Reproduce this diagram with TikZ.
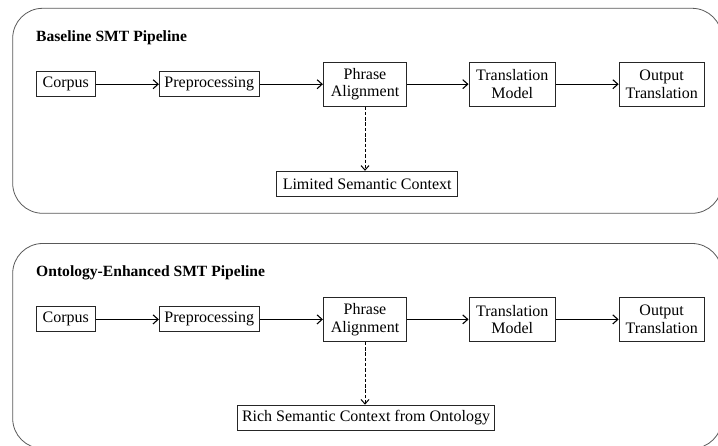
\documentclass[tikz,border=0pt]{standalone}
\usepackage{fontspec}
\setmainfont{Liberation Serif}
\usetikzlibrary{arrows.meta}

\tikzset{
  panel/.style={draw=black!65, line width=0.8pt, rounded corners=30pt},
  stage/.style={draw=black!85, line width=0.8pt, inner sep=0pt, minimum height=25pt,
    align=center, font=\fontsize{16}{17.7}\selectfont},
  stage2/.style={stage, minimum height=44pt},
  heading/.style={anchor=base west, inner sep=0pt, font=\fontsize{15.6}{17.7}\selectfont\bfseries},
  flow/.style={line width=1.2pt, -{Straight Barb[length=5pt,width=9pt,line width=1.1pt]}},
  hint/.style={line width=0.9pt, dash pattern=on 3.5pt off 1.8pt,
    -{Straight Barb[length=4.5pt,width=8pt,line width=1pt]}}
}

\begin{document}
\begin{tikzpicture}[x=1pt, y=-1pt]
\useasboundingbox (0,0) rectangle (718,446);

% ---- Baseline pipeline ----
\draw[panel] (12.7,8.3) rectangle (722,213.3);
\node[heading] (ta) at (36,41.7) {Baseline SMT Pipeline};
\node[stage,  minimum width=59.3pt] (a-corpus) at (65.7,84.2)  {Corpus};
\node[stage,  minimum width=100pt]  (a-prep)   at (209.3,84.2) {Preprocessing};
\node[stage2, minimum width=83.4pt] (a-phrase) at (365,84.2)   {Phrase\\Alignment};
\node[stage2, minimum width=86.7pt] (a-model)  at (512.3,84.2) {Translation\\Model};
\node[stage2, minimum width=85.3pt] (a-out)    at (661.7,84.2) {Output\\Translation};
\node[stage,  minimum width=181pt]  (a-ctx)    at (367.2,183.7) {Limited Semantic Context};
\draw[flow] (a-corpus) -- (a-prep);
\draw[flow] (a-prep) -- (a-phrase);
\draw[flow] (a-phrase) -- (a-model);
\draw[flow] (a-model) -- (a-out);
\draw[hint] (a-phrase.south) -- (a-phrase.south |- a-ctx.north);

% ---- Ontology-enhanced pipeline ----
\draw[panel] (12.7,243.5) rectangle (722,448.5);
\node[heading] (tb) at (36,276.9) {Ontology-Enhanced SMT Pipeline};
\node[stage,  minimum width=59.3pt] (b-corpus) at (65.7,319.4)  {Corpus};
\node[stage,  minimum width=100pt]  (b-prep)   at (209.3,319.4) {Preprocessing};
\node[stage2, minimum width=83.4pt] (b-phrase) at (365,319.4)   {Phrase\\Alignment};
\node[stage2, minimum width=86.7pt] (b-model)  at (512.3,319.4) {Translation\\Model};
\node[stage2, minimum width=85.3pt] (b-out)    at (661.7,319.4) {Output\\Translation};
\node[stage,  minimum width=257.4pt] (b-ctx)   at (366,417.6) {Rich Semantic Context from Ontology};
\draw[flow] (b-corpus) -- (b-prep);
\draw[flow] (b-prep) -- (b-phrase);
\draw[flow] (b-phrase) -- (b-model);
\draw[flow] (b-model) -- (b-out);
\draw[hint] (b-phrase.south) -- (b-phrase.south |- b-ctx.north);
\end{tikzpicture}
\end{document}
